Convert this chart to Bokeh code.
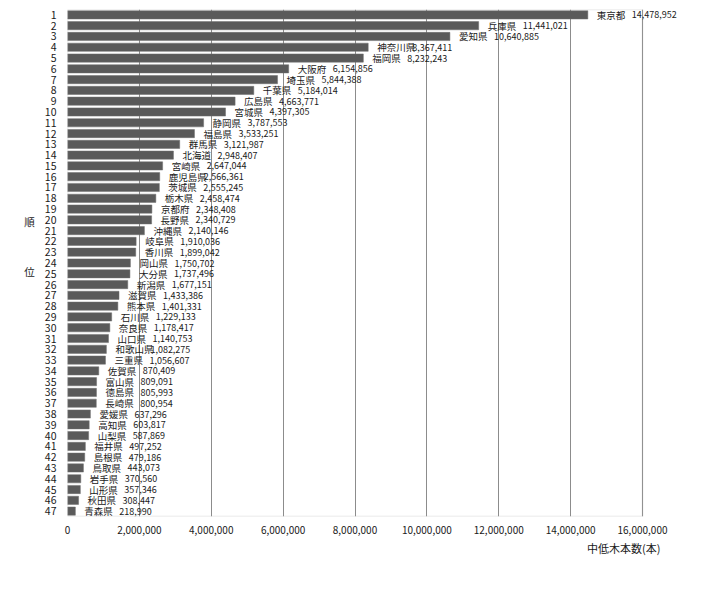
from bokeh.plotting import figure
from bokeh.models import (ColumnDataSource, LabelSet, Range1d, FixedTicker,
                          NumeralTickFormatter, BoxAnnotation, Title)
from bokeh.core.properties import value
from bokeh.embed import file_html
from bokeh.resources import INLINE

ranks = list(range(1, 48))
prefs = ["東京都", "兵庫県", "愛知県", "神奈川県", "福岡県", "大阪府", "埼玉県", "千葉県", "広島県", "宮城県",
         "静岡県", "福島県", "群馬県", "北海道", "宮崎県", "鹿児島県", "茨城県", "栃木県", "京都府", "長野県",
         "沖縄県", "岐阜県", "香川県", "岡山県", "大分県", "新潟県", "滋賀県", "熊本県", "石川県", "奈良県",
         "山口県", "和歌山県", "三重県", "佐賀県", "富山県", "徳島県", "長崎県", "愛媛県", "高知県", "山梨県",
         "福井県", "島根県", "鳥取県", "岩手県", "山形県", "秋田県", "青森県"]
counts = [14478952, 11441021, 10640885, 8367411, 8232243, 6154856, 5844388, 5184014, 4663771, 4397305,
          3787553, 3533251, 3121987, 2948407, 2647044, 2566361, 2555245, 2458474, 2348408, 2340729,
          2140146, 1910036, 1899042, 1750702, 1737496, 1677151, 1433386, 1401331, 1229133, 1178417,
          1140753, 1082275, 1056607, 870409, 809091, 805993, 800954, 637296, 603817, 587869,
          497252, 479186, 443073, 370560, 357346, 308447, 218990]
x_ticks = [0, 2000000, 4000000, 6000000, 8000000, 10000000, 12000000, 14000000, 16000000]
x_max = 16000000
x_title = "中低木本数(本)"
y_title = "順\n\n\n位\n\n"

FONT = "Noto Sans CJK JP"
TXT = "#1a1a1a"

src = ColumnDataSource(dict(
    rank=ranks, pref=prefs, count=counts,
    label=[f"{c:,}" for c in counts],
))

# frame: 575 px for 0..16M plus room on the right for the top label
FW_AXIS = 575
FW = 625
p = figure(frame_width=FW, frame_height=507, output_backend="svg", toolbar_location=None,
           x_range=Range1d(0, x_max * FW / FW_AXIS), y_range=Range1d(47.5, 0.5),
           min_border_left=67, min_border_top=9, min_border_right=8, min_border_bottom=0)

p.hbar(y="rank", right="count", left=0, height=0.76, source=src,
       fill_color="#5a5a5a", line_color="#6e6e6e", line_width=0.5)

# grid / outline (plot area = 0..16M)
p.xgrid.ticker = FixedTicker(ticks=x_ticks)
p.xgrid.grid_line_color = "#8c8c8c"
p.xgrid.grid_line_width = 1
p.ygrid.grid_line_color = None
p.outline_line_color = None
p.add_layout(BoxAnnotation(left=0, right=x_max, top=0.5, bottom=47.5,
                           fill_color=None, line_color="#a0a0a0", line_width=1.5, level="overlay"))

# axes
p.xaxis.ticker = FixedTicker(ticks=x_ticks)
p.xaxis.formatter = NumeralTickFormatter(format="0,0")
p.xaxis.axis_line_color = None
p.xaxis.major_tick_line_color = None
p.xaxis.minor_tick_line_color = None
p.xaxis.major_label_standoff = 3
p.xaxis.major_label_text_font = FONT
p.xaxis.major_label_text_font_size = "10px"
p.xaxis.major_label_text_color = TXT

p.yaxis.ticker = FixedTicker(ticks=ranks)
p.yaxis.axis_line_color = None
p.yaxis.major_tick_line_color = None
p.yaxis.minor_tick_line_color = None
p.yaxis.major_label_standoff = 5
p.yaxis.major_label_text_font = FONT
p.yaxis.major_label_text_font_size = "10.5px"
p.yaxis.major_label_text_color = TXT
p.yaxis.axis_label = y_title
p.yaxis.axis_label_orientation = "horizontal"
p.yaxis.axis_label_text_font = FONT
p.yaxis.axis_label_text_font_size = "10.5px"
p.yaxis.axis_label_text_font_style = "normal"
p.yaxis.axis_label_text_line_height = 1.12
p.yaxis.axis_label_text_color = TXT
p.yaxis.axis_label_standoff = 7

# data labels: name then value
names = LabelSet(x="count", y="rank", text="pref", source=src, x_offset=9,
                 text_font=value(FONT), text_font_size=value("9.5px"), text_baseline="middle",
                 text_align="left", text_color=TXT)
vals = LabelSet(x="count", y="rank", text="label", source=src, x_offset=44,
                text_font=value(FONT), text_font_size=value("9px"), text_baseline="middle",
                text_align="left", text_color=TXT)
p.add_layout(names)
p.add_layout(vals)

# x title, right aligned under the right end of the axis
p.add_layout(Title(text=x_title, align="right", offset=32, text_font=FONT,
                   text_font_size="11px", text_font_style="normal", text_color=TXT,
                   standoff=2), "below")

open("out.html", "w").write(file_html(p, INLINE))
